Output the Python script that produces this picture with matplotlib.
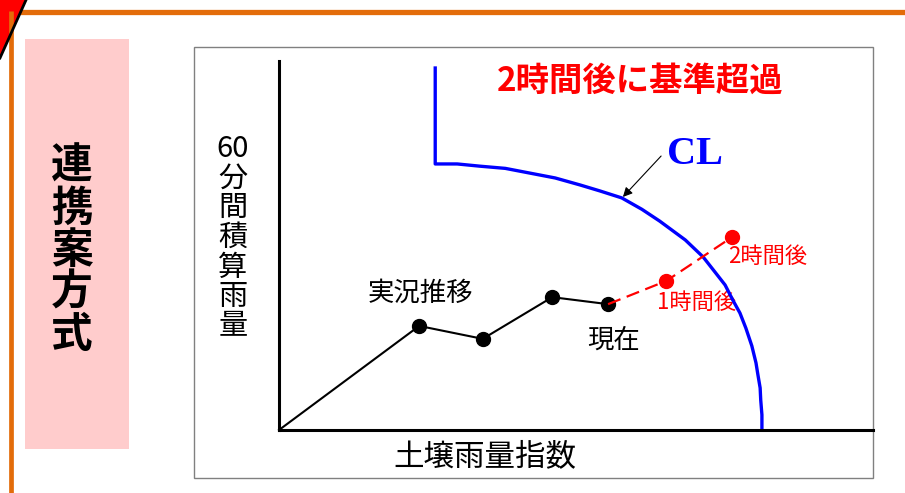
import matplotlib.pyplot as plt
from matplotlib.patches import Rectangle, Polygon

plt.rcParams['font.family'] = ['Noto Sans CJK JP', 'DejaVu Sans']

# 実況推移 (soil index, 60-min rain), first point is the origin
obs_x = [0, 23.6, 34.3, 46.0, 55.4]
obs_y = [0, 28.2, 24.7, 36.0, 34.1]

# forecast: 現在 -> 1時間後 -> 2時間後
fc_x = [55.4, 65.2, 76.3]
fc_y = [34.1, 40.4, 52.3]

# CL line
cl_x = [26.3, 26.3, 30.0, 33.8, 38.1, 42.3, 46.5, 50.7, 54.0, 57.7, 61.1,
        64.1, 68.4, 71.4, 73.4, 75.1, 76.4, 77.6, 78.6, 79.6, 80.3, 80.6,
        81.0, 81.1, 81.3, 81.3]
cl_y = [98.1, 72.1, 72.1, 71.5, 70.9, 69.6, 68.3, 66.4, 64.8, 62.9, 59.8,
        56.6, 51.5, 46.9, 42.8, 39.3, 35.2, 31.7, 27.6, 22.8, 18.2, 15.2,
        11.4, 8.1, 4.1, 0.0]

fig = plt.figure(figsize=(9.05, 4.93), dpi=100)

# background layer in pixel units
bg = fig.add_axes([0, 0, 1, 1])
bg.set_xlim(0, 905)
bg.set_ylim(493, 0)
bg.axis('off')

orange = '#E36C0A'
bg.plot([20, 905], [11.5, 11.5], color=orange, lw=3.8, solid_capstyle='butt')
bg.plot([10.5, 10.5], [11, 493], color=orange, lw=3.4, solid_capstyle='butt')
bg.add_patch(Polygon([(0, 0), (26, 0), (0, 58)], closed=True, fc='#FF0000', ec='none'))
bg.plot([26, 0], [0, 58], color='black', lw=2.0)

bg.add_patch(Rectangle((25, 39), 104, 410, fc='#FFCCCC', ec='none'))
bg.text(72, 251, '連\n携\n案\n方\n式', fontsize=30, fontweight='bold',
        ha='center', va='center', linespacing=1.0)

bg.add_patch(Rectangle((194, 47), 679, 431, fc='none', ec='#808080', lw=1.0))

# chart
ax = fig.add_axes([279 / 905, 63 / 493, 594 / 905, 369 / 493])
ax.set_xlim(0, 100)
ax.set_ylim(0, 100)
ax.patch.set_visible(False)
for s in ['top', 'right']:
    ax.spines[s].set_visible(False)
for s in ['left', 'bottom']:
    ax.spines[s].set_linewidth(2.2)
    ax.spines[s].set_color('black')
ax.set_xticks([])
ax.set_yticks([])

ax.plot(cl_x, cl_y, color='#0000FF', lw=2.4, clip_on=False, solid_joinstyle='round')
ax.plot(obs_x, obs_y, color='black', lw=1.5, clip_on=False)
ax.plot(obs_x[1:], obs_y[1:], 'o', color='black', ms=10, clip_on=False)
ax.plot(fc_x, fc_y, color='#FF0000', lw=1.6, ls=(0, (6, 3)), clip_on=False)
ax.plot(fc_x[1:], fc_y[1:], 'o', color='#FF0000', ms=10, clip_on=False)

# texts (pixel positions)
bg.text(640, 81, '2時間後に基準超過', color='#FF0000', fontsize=24,
        fontweight='bold', ha='center', va='center')
bg.text(695, 155, 'CL', color='#0000FF', fontsize=29, fontweight='bold',
        family='Liberation Serif', ha='center', va='center')
bg.annotate('', xy=(621, 199), xytext=(663, 154),
            arrowprops=dict(arrowstyle='-|>', color='black', lw=0.8, mutation_scale=14))
bg.text(420, 293, '実況推移', fontsize=19, ha='center', va='center')
bg.text(614, 340, '現在', fontsize=19, ha='center', va='center')
bg.text(697, 302, '1時間後', fontsize=16, color='#FF0000', ha='center', va='center')
bg.text(768, 256, '2時間後', fontsize=16, color='#FF0000', ha='center', va='center')
bg.text(485, 457, '土壌雨量指数', fontsize=22, ha='center', va='center')
bg.text(233, 238, '60\n分\n間\n積\n算\n雨\n量', fontsize=21, ha='center',
        va='center', multialignment='center', linespacing=0.98)

fig.savefig('out.png', dpi=100)
